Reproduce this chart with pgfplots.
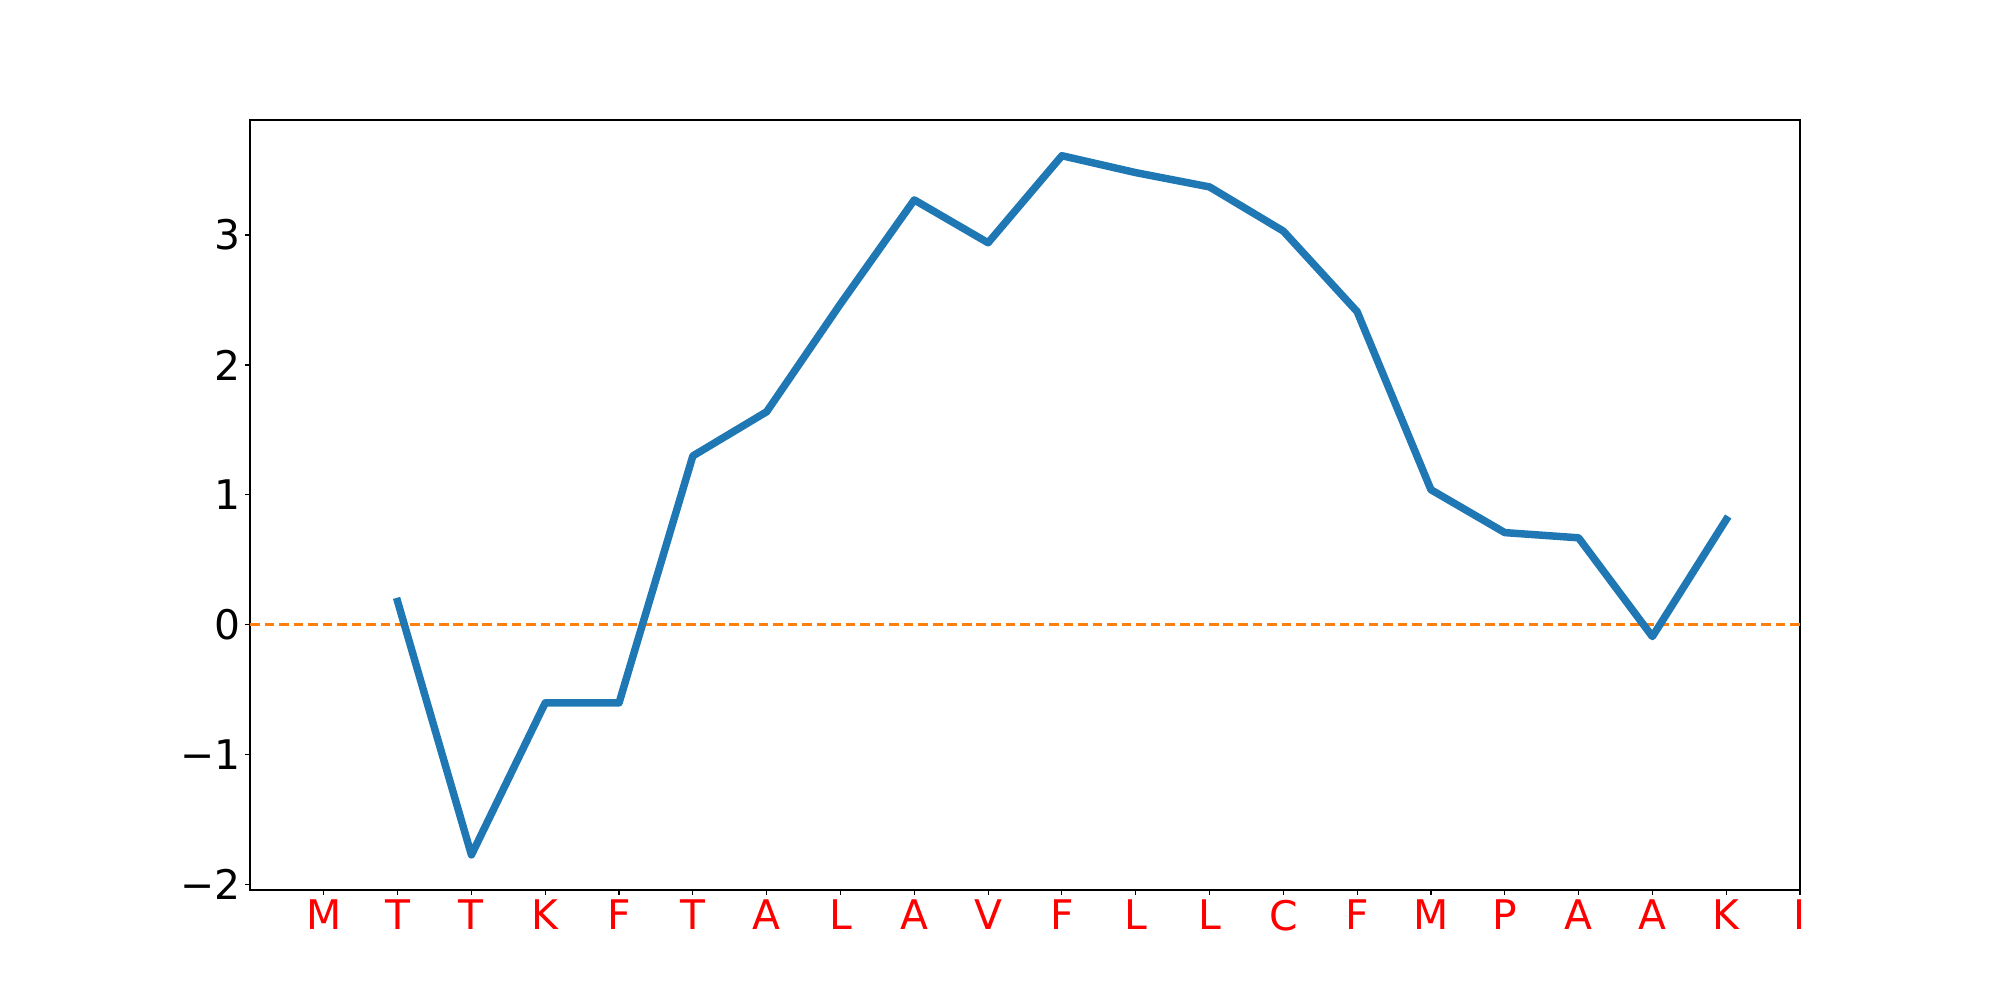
\documentclass[border=0pt]{standalone}
\usepackage{pgfplots}
\pgfplotsset{compat=1.18}
\usepackage{fontspec}
\setmainfont{DejaVu Sans}
\definecolor{mplblue}{HTML}{1F77B4}
\definecolor{mplorange}{HTML}{FF7F0E}
\begin{document}
\begin{tikzpicture}
\path[use as bounding box] (0,0) rectangle (20in,10in);
\begin{axis}[
  scale only axis,
  width=15.5in, height=7.7in,
  at={(2.5in,1.1in)}, anchor=south west,
  xmin=0, xmax=21, ymin=-2.04, ymax=3.885,
  xtick={1,...,21},
  xticklabels={M,T,T,K,F,T,A,L,A,V,F,L,L,C,F,M,P,A,A,K,I},
  ytick={-2,-1,0,1,2,3},
  yticklabels={−2,−1,0,1,2,3},
  x tick label style={text=red, font=\fontsize{29.5}{34}\selectfont, anchor=north, yshift=-0pt},
  y tick label style={font=\fontsize{29.5}{34}\selectfont},
  tick align=outside, xtick pos=bottom, ytick pos=left,
  major tick length=3.5pt,
  tick style={line width=0.8pt, black},
  axis line style={line width=0.8pt},
  clip=false,
]
\addplot[mplorange, line width=2pt, dash pattern=on 7pt off 3.5pt, domain=0:21, samples=2, forget plot] coordinates {(0,0) (21,0)};
\addplot[mplblue, line width=5.4pt, line join=round, line cap=rect, mark=none] coordinates {
(2,0.18)
(3,-1.77)
(4,-0.60)
(5,-0.60)
(6,1.30)
(7,1.64)
(8,2.47)
(9,3.27)
(10,2.94)
(11,3.61)
(12,3.48)
(13,3.37)
(14,3.03)
(15,2.41)
(16,1.04)
(17,0.71)
(18,0.67)
(19,-0.09)
(20,0.81)
};
\end{axis}
\end{tikzpicture}
\end{document}
